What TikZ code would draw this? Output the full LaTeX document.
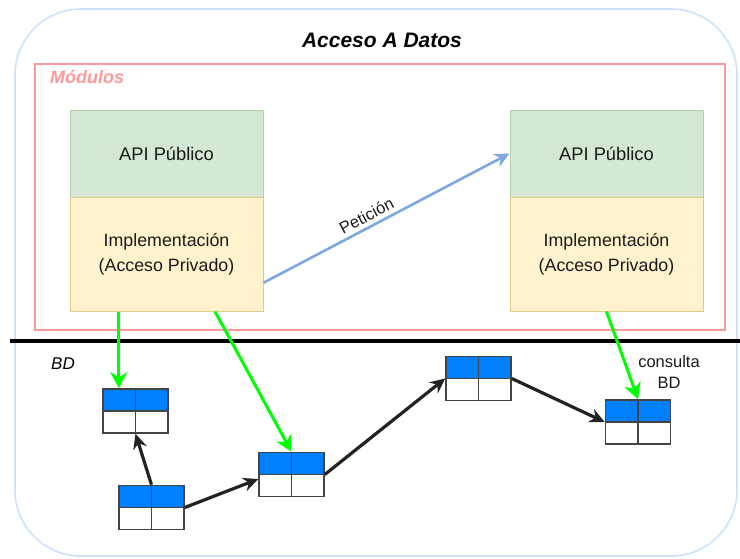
\documentclass[tikz,border=0pt]{standalone}
\usepackage{fontspec}
\setmainfont{Liberation Sans}
\usetikzlibrary{arrows.meta,calc}

\definecolor{outerblue}{HTML}{CCE2FB}
\definecolor{modpink}{HTML}{FF9999}
\definecolor{apifill}{HTML}{D5E8D4}
\definecolor{apiline}{HTML}{B3D1A8}
\definecolor{implfill}{HTML}{FFF2CC}
\definecolor{implline}{HTML}{E3CC8A}
\definecolor{tblblue}{HTML}{007FFF}
\definecolor{tblline}{HTML}{444444}
\definecolor{reqblue}{HTML}{7EA6E0}
\definecolor{querygreen}{HTML}{00FF00}
\definecolor{linkgray}{HTML}{222222}
\definecolor{txt}{HTML}{1A1A1A}

\tikzset{
  x=1pt, y=-1pt,
  apibox/.style={draw=apiline, fill=apifill, line width=1pt,
    minimum width=193pt, minimum height=87pt, inner sep=0pt,
    text=txt, font=\fontsize{18.3}{24}\selectfont},
  implbox/.style={draw=implline, fill=implfill, line width=1pt,
    minimum width=193pt, minimum height=114pt, inner sep=0pt,
    text=txt, align=center, font=\fontsize{17.8}{25}\selectfont},
  dbtable/.style={draw=tblline, line width=1.6pt,
    minimum width=65pt, minimum height=44pt, inner sep=0pt,
    path picture={
      \fill[tblblue] (path picture bounding box.north west)
        rectangle (path picture bounding box.east);
      \draw[tblline, line width=1.6pt] (path picture bounding box.west)
        -- (path picture bounding box.east);
      \draw[tblline, line width=1.6pt] (path picture bounding box.north)
        -- (path picture bounding box.south);
    }},
  query/.style={draw=querygreen, line width=3pt,
    -{Stealth[length=16pt,width=17pt,inset=5pt]}},
  link/.style={draw=linkgray, line width=3.2pt,
    -{Stealth[length=15pt,width=14pt,inset=5pt]}},
  request/.style={draw=reqblue, line width=2.6pt,
    -{Stealth[length=15pt,width=14pt,inset=5pt]}},
}

\begin{document}
\begin{tikzpicture}
  \useasboundingbox (0,0) rectangle (740,558);

  % outer container
  \draw[outerblue, line width=1.6pt, rounded corners=66pt] (15,9) rectangle (737,556);
  \node[font=\fontsize{21}{25}\selectfont\bfseries\itshape] (title) at (382,40) {Acceso A Datos};

  % modules frame
  \draw[modpink, line width=2.4pt] (35,64) rectangle (725,330);
  \node[anchor=west, text=modpink, inner sep=0pt,
        font=\fontsize{18}{20}\selectfont\bfseries\itshape] (modlabel) at (50,77) {Módulos};

  % modules
  \node[apibox] (api1) at (166.5,153.5) {API Público};
  \node[implbox] (impl1) at (166.5,254) {Implementación\\(Acceso Privado)};
  \node[apibox] (api2) at (606.5,153.5) {API Público};
  \node[implbox] (impl2) at (606.5,254) {Implementación\\(Acceso Privado)};

  % database boundary
  \coordinate (sepL) at (10,341);
  \coordinate (sepR) at (740,341);
  \draw[black, line width=3.4pt] (sepL) -- (sepR);
  \node[font=\fontsize{17}{20}\selectfont\itshape] (bdlabel) at (63,364) {BD};

  % tables
  \node[dbtable] (t1) at (135.5,411) {};
  \node[dbtable] (t2) at (151.5,507.5) {};
  \node[dbtable] (t3) at (291.5,474.5) {};
  \node[dbtable] (t4) at (478.5,378.5) {};
  \node[dbtable] (t5) at (638,422) {};

  % request between modules
  \draw[request] ($(impl1.south east)!0.25!(impl1.north east)$) -- (api2.west)
    node[pos=0.44, above=3pt, sloped, text=txt, inner sep=1pt,
         font=\fontsize{16.5}{19}\selectfont] (req) {Petición};

  % queries
  \coordinate (t1in) at ($(t1.north west)!0.25!(t1.north east)$);
  \draw[query] (impl1.south -| t1in) -- (t1in);
  \draw[query] ($(impl1.south west)!0.75!(impl1.south east)$) -- (t3.north);
  \draw[query] (impl2.south) -- (t5.north);
  \node[align=center, text=txt, font=\fontsize{16.5}{21}\selectfont] (qlabel) at (669,372) {consulta\\BD};

  % relations between tables
  \draw[link] (t2.north) -- (t1.south);
  \draw[link] (t2.east) -- ($(t3.south west)!0.4!(t3.north west)$);
  \draw[link] (t3.east) -- (t4.west);
  \draw[link] (t4.east) -- (t5.west);
\end{tikzpicture}
\end{document}
